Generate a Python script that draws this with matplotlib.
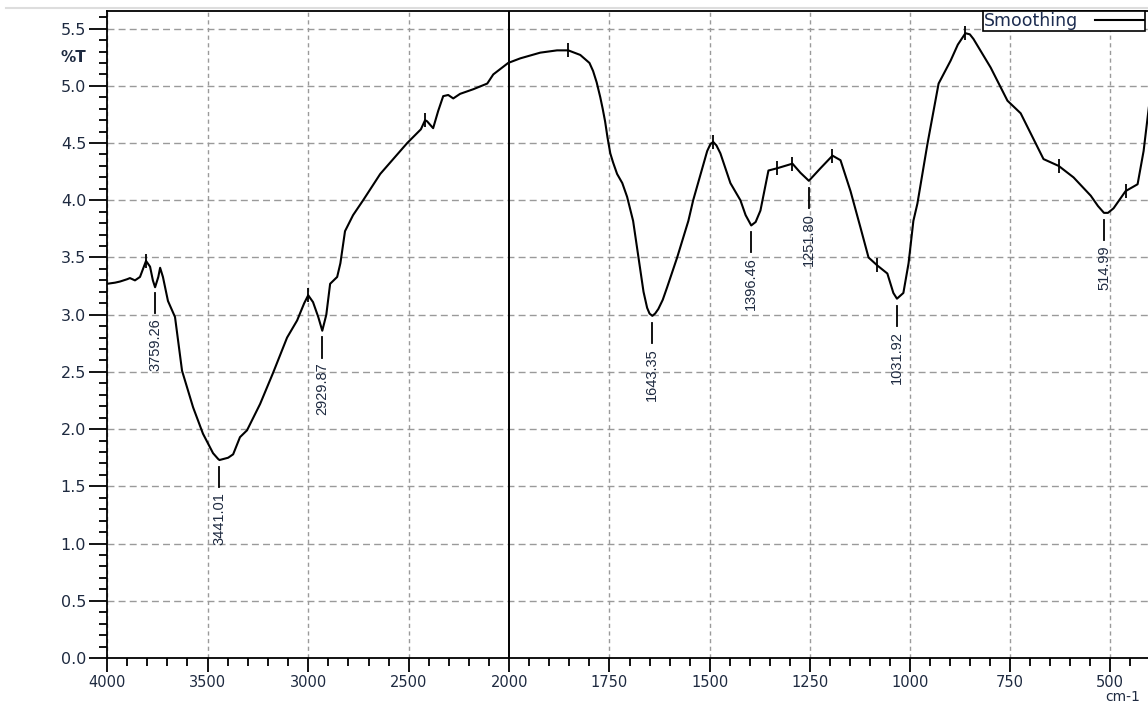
import numpy as np
import matplotlib
matplotlib.use('Agg')
import matplotlib.pyplot as plt
from matplotlib.ticker import FixedLocator, FixedFormatter
from matplotlib.lines import Line2D

# spectrum (wavenumber cm-1, %T)
wavenumber = [4000, 3960, 3935, 3900, 3886, 3861, 3836, 3821, 3806, 3786,
              3772, 3761, 3745, 3736, 3722, 3697, 3662, 3627, 3572, 3523,
              3473, 3448, 3441, 3420, 3398, 3373, 3339, 3304, 3239, 3175,
              3105, 3055, 3020, 3000, 2976, 2950, 2930, 2910, 2891, 2856,
              2840, 2817, 2777, 2727, 2642, 2508, 2440, 2419, 2409, 2379,
              2354, 2329, 2304, 2279, 2245, 2180, 2110, 2080, 2006, 1973,
              1923, 1881, 1853, 1823, 1800, 1791, 1782, 1773, 1767, 1761,
              1755, 1748, 1741, 1731, 1718, 1706, 1691, 1673, 1665, 1656,
              1650, 1643, 1636, 1628, 1617, 1606, 1581, 1553, 1541, 1506,
              1498, 1491, 1483, 1473, 1448, 1423, 1410, 1396, 1385, 1373,
              1353, 1331, 1293, 1273, 1252, 1223, 1193, 1173, 1148, 1123,
              1103, 1081, 1056, 1041, 1032, 1016, 1003, 991, 981, 956,
              928, 898, 880, 861, 850, 841, 798, 756, 723, 693,
              666, 628, 591, 548, 530, 515, 505, 491, 461, 431,
              416, 403]
transmittance = [3.27, 3.28, 3.29, 3.31, 3.32, 3.30, 3.33, 3.40, 3.47, 3.42,
                 3.30, 3.24, 3.33, 3.41, 3.33, 3.12, 2.98, 2.51, 2.19, 1.96,
                 1.79, 1.74, 1.73, 1.74, 1.75, 1.78, 1.93, 1.99, 2.22, 2.49,
                 2.80, 2.95, 3.10, 3.17, 3.11, 2.98, 2.86, 3.00, 3.27, 3.33,
                 3.45, 3.73, 3.87, 4.00, 4.23, 4.50, 4.62, 4.70, 4.69, 4.63,
                 4.78, 4.91, 4.92, 4.89, 4.93, 4.97, 5.02, 5.10, 5.20, 5.24,
                 5.29, 5.31, 5.31, 5.27, 5.20, 5.13, 5.03, 4.90, 4.80, 4.69,
                 4.55, 4.41, 4.33, 4.23, 4.15, 4.03, 3.82, 3.39, 3.20, 3.06,
                 3.01, 2.99, 3.01, 3.05, 3.13, 3.24, 3.50, 3.82, 4.00, 4.43,
                 4.49, 4.51, 4.48, 4.41, 4.15, 4.00, 3.87, 3.78, 3.81, 3.91,
                 4.26, 4.28, 4.32, 4.24, 4.17, 4.28, 4.39, 4.35, 4.08, 3.76,
                 3.50, 3.43, 3.36, 3.19, 3.14, 3.19, 3.45, 3.82, 3.97, 4.49,
                 5.02, 5.22, 5.36, 5.46, 5.45, 5.41, 5.16, 4.87, 4.76, 4.55,
                 4.36, 4.30, 4.20, 4.04, 3.95, 3.89, 3.89, 3.93, 4.08, 4.14,
                 4.43, 4.81]

# labelled minima
peak_wn = [3759.26, 3441.01, 2929.87, 1643.35, 1396.46, 1251.80, 1031.92, 514.99]
peak_labels = ['3759.26', '3441.01', '2929.87', '1643.35', '1396.46', '1251.80', '1031.92', '514.99']

# small unlabelled tick marks on maxima
mark_wn = [3806, 3000, 2419, 1853, 1491, 1331, 1293, 1193, 1081, 861, 628, 461]

x_major = [4000, 3500, 3000, 2500, 2000, 1750, 1500, 1250, 1000, 750, 500]
y_major = [0.0, 0.5, 1.0, 1.5, 2.0, 2.5, 3.0, 3.5, 4.0, 4.5, 5.0, 5.5]

K = 1.99  # right half is stretched


def fwd(w):
    w = np.asarray(w, dtype=float)
    return np.where(w >= 2000, w, 2000 - K * (2000 - w))


def inv(u):
    u = np.asarray(u, dtype=float)
    return np.where(u >= 2000, u, 2000 - (2000 - u) / K)


W, H = 1148, 702
fig = plt.figure(figsize=(W / 100, H / 100), dpi=100)
ax = fig.add_axes([107 / W, 44 / H, (W - 107) / W, (658 - 11) / H])
ax.set_xscale('function', functions=(fwd, inv))
ax.set_xlim(4000, 405)
ax.set_ylim(0, 5.654)

lab_col = '#1e2a40'
ax.xaxis.set_major_locator(FixedLocator(x_major))
ax.xaxis.set_major_formatter(FixedFormatter([str(v) for v in x_major]))
x_minor = [v for v in range(3900, 2000, -100) if v % 500] + \
          [v for v in range(1950, 400, -50) if v % 250]
ax.xaxis.set_minor_locator(FixedLocator(x_minor))
ax.yaxis.set_major_locator(FixedLocator(y_major))
ax.yaxis.set_major_formatter(FixedFormatter(['%.1f' % v for v in y_major]))
ax.yaxis.set_minor_locator(FixedLocator(np.arange(0.1, 5.65, 0.1)))

ax.tick_params(axis='x', which='major', direction='out', length=10, width=1.3,
               pad=2.5, labelsize=10.5, labelcolor=lab_col)
ax.tick_params(axis='x', which='minor', direction='out', length=5.5, width=1.3)
ax.tick_params(axis='y', which='major', direction='out', length=13, width=1.3,
               pad=2, labelsize=11.5, labelcolor=lab_col)
ax.tick_params(axis='y', which='minor', direction='out', length=6, width=1.3)
for lab in ax.get_xticklabels() + ax.get_yticklabels():
    lab.set_fontfamily('DejaVu Sans')

ax.grid(False)
for v in x_major:
    if v != 2000:
        ax.axvline(v, color='#9a9a9a', lw=1.0, ls=(0, (3, 2.5)), zorder=1)
for v in y_major[1:]:
    ax.axhline(v, color='#9a9a9a', lw=1.0, ls=(0, (5, 3)), zorder=1)
ax.axvline(2000, color='black', lw=1.4, zorder=2)

for s in ['left', 'bottom', 'top']:
    ax.spines[s].set_linewidth(1.3)
    ax.spines[s].set_color('black')
ax.spines['right'].set_visible(False)

ax.plot(wavenumber, transmittance, color='black', lw=1.5, zorder=3, label='Smoothing')

mark_y = np.interp(mark_wn, wavenumber[::-1], transmittance[::-1])
ax.plot(mark_wn, mark_y, ls='none', marker='|', markersize=10, mew=1.3,
        color='black', zorder=4)

peak_y = np.interp(peak_wn, wavenumber[::-1], transmittance[::-1])
for w, y, lab in zip(peak_wn, peak_y, peak_labels):
    ax.plot([w, w], [y - 0.06, y - 0.235], color='black', lw=1.3, zorder=4)
    ax.text(w, y - 0.28, lab, rotation=90, ha='center', va='top', fontsize=10.5,
            color=lab_col, family=['Liberation Sans Narrow', 'Liberation Sans'])

leg = ax.legend(loc='upper right', bbox_to_anchor=(0.997, 1.0), borderaxespad=0,
                markerfirst=False, fancybox=False, framealpha=1, edgecolor='black',
                borderpad=0.05, handlelength=2.8, handletextpad=1.0,
                prop={'family': 'DejaVu Sans', 'size': 12.5})
leg.get_frame().set_linewidth(1.2)
for t in leg.get_texts():
    t.set_color('#1c2c50')

fig.text(86 / W, 1 - 58 / H, '%T', ha='right', va='center', fontsize=11,
         color=lab_col, family='DejaVu Sans', fontweight='bold')
fig.text(1105 / W, 1 - 701 / H, 'cm-1', ha='left', va='baseline', fontsize=10,
         color=lab_col, family='DejaVu Sans')
fig.add_artist(Line2D([6 / W, 1], [1 - 8 / H, 1 - 8 / H], color='#dddddd', lw=1.5))

fig.savefig('out.png', dpi=100)
